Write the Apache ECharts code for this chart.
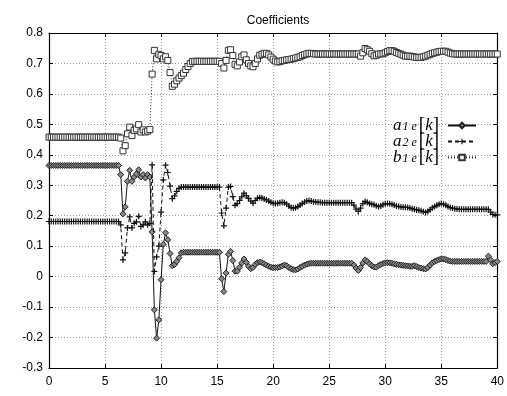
<!DOCTYPE html>
<html><head><meta charset="utf-8">
<script src="https://cdn.jsdelivr.net/npm/echarts@6.0.0/dist/echarts.min.js"></script>
<style>html,body{margin:0;padding:0;background:#fff}#c{width:507px;height:396px}</style>
</head><body><div id="c"></div>
<script>
const STEP = 0.2;
const xTicks = [0,5,10,15,20,25,30,35,40];
const yTicks = [-0.3,-0.2,-0.1,0,0.1,0.2,0.3,0.4,0.5,0.6,0.7,0.8];
const seriesNames = ['a1e','a2e','b1e'];

const a1e = [
0.365,0.365,0.365,0.365,0.365,0.365,0.365,0.365,0.365,0.365,0.365,0.365,0.365,0.365,0.365,0.365,
0.365,0.365,0.365,0.365,0.365,0.365,0.365,0.365,0.365,0.365,0.365,0.365,0.365,0.365,0.365,0.365,
0.335,0.206,0.229,0.313,0.349,0.313,0.327,0.337,0.351,0.327,0.335,0.324,0.335,0.327,0.147,-0.109,
-0.202,-0.142,-0.010,0.106,0.144,0.121,0.076,0.036,0.040,0.050,0.062,0.078,0.080,
0.080,0.080,0.080,0.080,0.080,0.080,0.080,0.080,0.080,0.080,0.080,0.080,0.080,0.080,0.080,0.080,
-0.007,-0.049,0.012,0.073,0.083,0.053,0.018,0.018,0.031,0.045,0.058,0.047,0.034,0.026,0.030,0.040,
0.046,0.048,0.046,0.042,0.038,0.034,0.031,0.029,0.030,0.030,0.032,0.035,0.038,0.036,0.030,0.026,
0.023,0.022,0.025,0.030,0.034,0.038,0.041,0.043,0.044,
0.044,0.044,0.044,0.044,0.044,0.044,0.044,0.044,0.044,0.044,0.044,0.044,0.044,0.044,0.044,0.044,0.044,0.044,
0.038,0.028,0.020,0.030,0.045,0.055,0.050,0.042,0.036,0.032,0.031,0.036,0.040,0.043,0.045,0.046,
0.045,0.044,0.042,0.040,0.039,0.038,0.037,0.036,0.035,0.034,0.034,0.036,0.033,0.030,0.028,0.026,
0.025,0.030,0.038,0.045,0.050,0.053,0.056,0.058,0.058,0.056,0.053,0.051,
0.050,0.050,0.050,0.050,0.050,0.050,0.050,0.050,0.050,0.050,0.050,0.050,0.050,0.050,0.050,0.050,
0.067,0.055,0.042,0.046,0.050
];

const a2e = [
0.181,0.181,0.181,0.181,0.181,0.181,0.181,0.181,0.181,0.181,0.181,0.181,0.181,0.181,0.181,0.181,
0.181,0.181,0.181,0.181,0.181,0.181,0.181,0.181,0.181,0.181,0.181,0.181,0.181,0.181,0.181,0.181,
0.170,0.055,0.078,0.160,0.196,0.160,0.175,0.180,0.198,0.165,0.170,0.180,0.170,0.175,0.367,0.017,
0.065,0.100,0.212,0.318,0.366,0.342,0.297,0.256,0.265,0.280,0.290,0.294,0.294,
0.294,0.294,0.294,0.294,0.294,0.294,0.294,0.294,0.294,0.294,0.294,0.294,0.294,0.294,0.294,0.294,
0.209,0.167,0.225,0.294,0.296,0.263,0.234,0.240,0.250,0.262,0.274,0.266,0.257,0.248,0.241,0.250,
0.257,0.260,0.258,0.255,0.252,0.248,0.244,0.241,0.240,0.241,0.243,0.244,0.243,0.238,0.232,0.227,
0.225,0.226,0.230,0.235,0.240,0.245,0.248,0.250,0.248,0.246,0.245,0.244,0.244,0.243,
0.243,0.243,0.243,0.243,0.243,0.243,0.243,0.243,0.243,0.243,0.243,0.243,0.243,
0.235,0.222,0.214,0.225,0.240,0.247,0.244,0.240,0.238,0.236,0.233,0.230,0.232,0.236,0.239,0.240,
0.239,0.238,0.235,0.232,0.230,0.229,0.228,0.228,0.227,0.225,0.223,0.221,0.219,0.218,0.216,0.213,
0.211,0.214,0.220,0.226,0.230,0.234,0.238,0.240,0.238,0.234,0.230,0.227,0.225,0.223,0.222,
0.221,0.221,0.221,0.221,0.221,0.221,0.221,0.221,0.221,0.221,0.221,0.221,0.221,0.221,
0.212,0.204,0.203,0.203
];

const b1e = [
0.458,0.458,0.458,0.458,0.458,0.458,0.458,0.458,0.458,0.458,0.458,0.458,0.458,0.458,0.458,0.458,
0.458,0.458,0.458,0.458,0.458,0.458,0.458,0.458,0.458,0.458,0.458,0.458,0.458,0.458,0.458,0.458,
0.455,0.413,0.430,0.469,0.491,0.463,0.480,0.485,0.499,0.475,0.482,0.475,0.478,0.483,
0.665,0.743,0.715,0.730,0.726,0.715,0.722,0.710,
0.670,0.625,0.632,0.643,0.652,0.660,0.668,0.680,0.690,0.700,0.706,
0.707,0.707,0.707,0.707,0.707,0.707,0.707,0.707,0.707,0.707,0.707,0.707,
0.700,0.685,0.710,0.743,0.745,0.726,0.697,0.692,0.705,0.722,0.728,0.712,0.700,0.692,0.689,0.700,
0.715,0.727,0.730,0.733,0.733,0.728,0.721,0.714,0.708,0.705,0.706,0.709,0.710,0.712,0.713,0.714,
0.716,0.718,0.720,0.722,0.726,0.729,0.731,0.733,0.733,0.732,0.731,
0.731,0.731,0.731,0.731,0.731,0.731,0.731,0.731,0.731,0.731,0.731,0.731,0.731,0.731,0.731,0.731,0.731,0.731,0.731,
0.724,0.735,0.749,0.745,0.740,0.732,0.725,0.727,0.731,0.731,0.732,0.735,0.739,0.742,0.742,0.740,
0.736,0.733,0.730,0.727,0.724,0.724,0.724,0.723,0.721,0.720,0.720,0.720,0.722,0.724,0.727,0.730,
0.733,0.735,0.737,0.739,0.740,0.740,0.740,0.737,0.734,0.732,
0.731,0.731,0.731,0.731,0.731,0.731,0.731,0.731,0.731,0.731,0.731,0.731,0.731,0.731,0.731,0.731,0.731,0.731,0.731,0.731
];

function pairs(arr){ return arr.map((v,i)=>[+(i*STEP).toFixed(1), v]); }

const chart = echarts.init(document.getElementById('c'), null, {renderer:'canvas'});
const lab = {color:'#000', fontFamily:'Liberation Sans, Arial, sans-serif', fontSize:12};
const gridLine = {show:true, lineStyle:{color:'#999', type:[1,2], width:1}};
const legendText = {
  a1e:'{v|a}{s|1 e}{b|[}{k|k}{b|]}',
  a2e:'{v|a}{s|2 e}{b|[}{k|k}{b|]}',
  b1e:'{v|b}{s|1 e}{b|[}{k|k}{b|]}'
};
const plusPath = 'path://M4,0h2v4h4v2h-4v4h-2v-4h-4v-2h4z';
const serif = 'Liberation Serif, DejaVu Serif, serif';

chart.setOption({
  animation:false,
  backgroundColor:'#fff',
  title:{text:'Coefficients', left:273, textAlign:'center', top:10,
    textStyle:{fontFamily:'Liberation Sans, Arial, sans-serif', fontSize:12, fontWeight:'normal', color:'#000'}},
  grid:{left:49, right:9, top:33, bottom:28, containLabel:false},
  legend:{
    orient:'vertical', right:30, top:116, align:'right', itemWidth:28, itemHeight:7, itemGap:-3,
    padding:0,
    data:seriesNames,
    formatter:n=>legendText[n],
    textStyle:{padding:[0,4,0,0], rich:{
      v:{fontFamily:serif, fontStyle:'italic', fontSize:17, color:'#000', lineHeight:15, verticalAlign:'middle'},
      s:{fontFamily:serif, fontStyle:'italic', fontSize:12, color:'#000', lineHeight:9, verticalAlign:'bottom', padding:[4,2,0,1]},
      b:{fontFamily:serif, fontSize:19, color:'#000', lineHeight:15, verticalAlign:'middle'},
      k:{fontFamily:serif, fontStyle:'italic', fontSize:17, color:'#000', lineHeight:15, verticalAlign:'middle'}
    }}
  },
  xAxis:[{
    type:'value', min:0, max:40, interval:5,
    axisLine:{show:true, onZero:false, lineStyle:{color:'#000', width:1.2}},
    axisTick:{show:true, inside:true, length:4, lineStyle:{color:'#000'}},
    axisLabel:Object.assign({margin:8}, lab),
    splitLine:gridLine
  },{
    type:'value', min:0, max:40, interval:5, position:'top',
    axisLine:{show:true, onZero:false, lineStyle:{color:'#000', width:1.2}},
    axisTick:{show:true, inside:true, length:4, lineStyle:{color:'#000'}},
    axisLabel:{show:false}, splitLine:{show:false}
  }],
  yAxis:[{
    type:'value', min:-0.3, max:0.8, interval:0.1,
    axisLine:{show:true, onZero:false, lineStyle:{color:'#000', width:1.2}},
    axisTick:{show:true, inside:true, length:4, lineStyle:{color:'#000'}},
    axisLabel:Object.assign({margin:6, formatter:v=>String(+v.toFixed(1))}, lab),
    splitLine:gridLine
  },{
    type:'value', min:-0.3, max:0.8, interval:0.1, position:'right',
    axisLine:{show:true, onZero:false, lineStyle:{color:'#000', width:1.2}},
    axisTick:{show:true, inside:true, length:4, lineStyle:{color:'#000'}},
    axisLabel:{show:false}, splitLine:{show:false}
  }],
  series:[
    {name:'a1e', type:'line', data:pairs(a1e), symbol:'diamond', symbolSize:6, showAllSymbol:true,
     lineStyle:{color:'#111', width:1, type:'solid'},
     itemStyle:{color:'#888', borderColor:'#222', borderWidth:1}, z:3},
    {name:'a2e', type:'line', data:pairs(a2e), symbol:plusPath, symbolSize:6, showAllSymbol:true,
     lineStyle:{color:'#111', width:1, type:[4,3]},
     itemStyle:{color:'#111', borderWidth:0}, z:4},
    {name:'b1e', type:'line', data:pairs(b1e), symbol:'rect', symbolSize:6, showAllSymbol:true,
     lineStyle:{color:'#222', width:1, type:[1,2]},
     itemStyle:{color:'#fff', borderColor:'#333', borderWidth:1}, z:2}
  ]
});
</script>
</body></html>
